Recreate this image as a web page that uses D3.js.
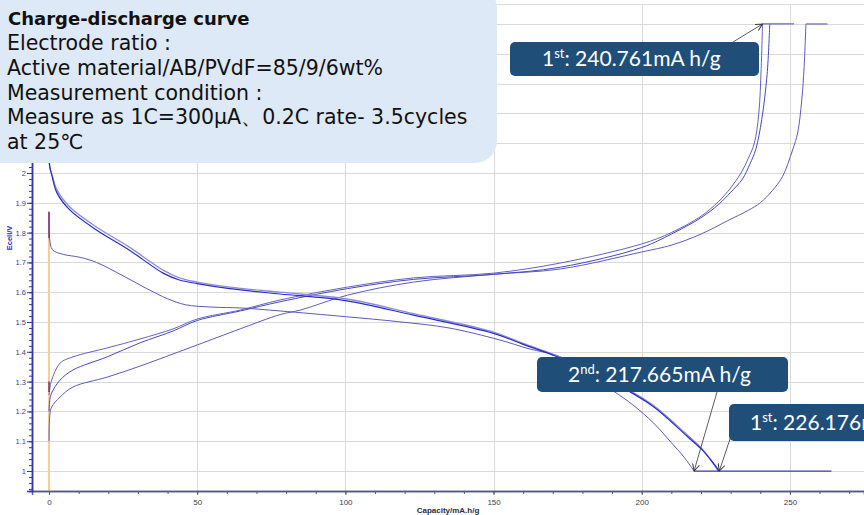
<!DOCTYPE html>
<html>
<head>
<meta charset="utf-8">
<script src="https://cdn.jsdelivr.net/npm/d3@7"></script>
<style>
  body { margin: 0; background: #fff; }
  svg { display: block; }
</style>
</head>
<body>
<svg id="chart" width="864" height="515"></svg>
<script>
// capacity (mAh/g) and cell voltage (V)
var dis1Cap = [0, 0.3, 1, 2.6, 7, 16, 27, 38.5, 44, 50, 61, 78, 100, 123, 150, 160, 170, 182, 193, 204, 215.5, 220, 223.3, 226.2]
var dis1V = [2.05, 2.02, 1.99, 1.935, 1.876, 1.809, 1.742, 1.664, 1.641, 1.629, 1.612, 1.594, 1.572, 1.523, 1.462, 1.425, 1.389, 1.34, 1.283, 1.216, 1.115, 1.075, 1.037, 1.0]

var dis2Cap = [0, 0.3, 1, 2.6, 7, 16, 27, 38.5, 44, 50, 61, 78, 100, 123, 150, 160, 170, 182, 193, 204, 215.5, 220, 223, 225.8]
var dis2V = [2.04, 2.015, 1.995, 1.945, 1.886, 1.819, 1.752, 1.674, 1.648, 1.634, 1.617, 1.6, 1.578, 1.528, 1.466, 1.428, 1.392, 1.343, 1.287, 1.22, 1.12, 1.078, 1.042, 1.0]

var dis3Cap = [0, 0.2, 1.2, 4.8, 10.5, 16, 25, 33, 40, 46, 55, 65, 78, 100, 118, 135, 152, 162, 172, 181, 190.5, 197, 204, 210, 214, 217.665]
var dis3V = [1.87, 1.78, 1.742, 1.727, 1.717, 1.70, 1.655, 1.612, 1.578, 1.558, 1.55, 1.547, 1.537, 1.518, 1.501, 1.48, 1.44, 1.41, 1.385, 1.33, 1.268, 1.222, 1.161, 1.095, 1.05, 1.0]

var chaACap = [0, 0.5, 0.9, 3.7, 8.1, 19.6, 30.7, 41.9, 50, 64.5, 78, 100.7, 123, 150, 172.6, 200, 210, 220, 226, 230, 233.5, 236, 238, 239.5, 240.3, 240.761]
var chaAV = [1.255, 1.29, 1.305, 1.362, 1.383, 1.413, 1.443, 1.477, 1.51, 1.54, 1.574, 1.617, 1.648, 1.664, 1.698, 1.762, 1.80, 1.855, 1.905, 1.95, 2.0, 2.05, 2.1, 2.2, 2.35, 2.5]

var chaBCap = [0, 0.3, 0.9, 3.7, 8.1, 19.6, 30.7, 41.9, 50, 64.5, 78, 100.7, 123, 150, 172.6, 200, 210, 220, 226, 230, 234, 236.5, 238.5, 240.5, 242.3, 243.2]
var chaBV = [1.20, 1.24, 1.262, 1.305, 1.339, 1.383, 1.43, 1.47, 1.505, 1.537, 1.568, 1.612, 1.643, 1.66, 1.684, 1.75, 1.795, 1.85, 1.895, 1.935, 1.98, 2.03, 2.08, 2.18, 2.33, 2.5]

var chaCCap = [0, 0.3, 0.9, 3.7, 8.1, 19.6, 30.7, 41.9, 50, 64.5, 78, 84.8, 100.7, 123, 150, 172.6, 200, 210, 220, 229, 236, 240, 244, 247.5, 250.9, 252.6, 254, 254.8, 255.4]
var chaCV = [1.10, 1.19, 1.215, 1.248, 1.282, 1.315, 1.352, 1.393, 1.423, 1.477, 1.525, 1.54, 1.59, 1.634, 1.66, 1.678, 1.735, 1.758, 1.795, 1.84, 1.875, 1.9, 1.94, 1.988, 2.077, 2.134, 2.245, 2.357, 2.5]

// rest steps (constant voltage)
var topRest1Cap = [240.761, 251.4]
var topRest2Cap = [255.4, 262.7]
var topRestV = 2.5
var bottomRestCap = [217.665, 264]
var bottomRestV = 1.0

// vertical traces at zero capacity
var zeroOrangeV = [0.935, 1.78]
var zeroMaroonV = [1.78, 1.87]
var zeroMaroonLowV = [1.265, 1.3]

var xTicks = [0, 50, 100, 150, 200, 250]
var yTicks = [1, 1.1, 1.2, 1.3, 1.4, 1.5, 1.6, 1.7, 1.8, 1.9, 2, 2.1, 2.2, 2.3, 2.4, 2.5]
var yLabelMax = 2

var infoLines = ["Electrode ratio :", "Active material/AB/PVdF=85/9/6wt%", "Measurement condition :", "Measure as 1C=300μA、0.2C rate- 3.5cycles", "at 25℃"]
var notes = [
  {num: "1", ord: "st", text: ": 240.761mA h/g", cap: 240.761, v: 2.5},
  {num: "2", ord: "nd", text: ": 217.665mA h/g", cap: 217.665, v: 1.0},
  {num: "1", ord: "st", text: ": 226.176mA h/g", cap: 226.176, v: 1.0}
]

var svg = d3.select('#chart')
var W = 864, H = 515

var x = d3.scaleLinear().domain([-5.74, 275]).range([32, 864])
var y = d3.scaleLinear().domain([0.933, 2.567]).range([491, 4])

/* grid */
var grid = svg.append('g').attr('stroke', '#d9d9d9').attr('stroke-width', 1)
grid.selectAll('.hg').data(yTicks).enter().append('line')
  .attr('x1', 32).attr('x2', W)
  .attr('y1', d => Math.round(y(d)) + 0.5).attr('y2', d => Math.round(y(d)) + 0.5)
grid.selectAll('.vg').data(xTicks.slice(1)).enter().append('line')
  .attr('x1', d => Math.round(x(d)) + 0.5).attr('x2', d => Math.round(x(d)) + 0.5)
  .attr('y1', 4).attr('y2', 491)
grid.append('line').attr('x1', 32).attr('x2', W).attr('y1', 4.5).attr('y2', 4.5)

/* zero capacity traces */
function vseg(vs, color, w) {
  svg.append('line')
    .attr('x1', x(0)).attr('x2', x(0))
    .attr('y1', y(vs[0])).attr('y2', y(vs[1]))
    .attr('stroke', color).attr('stroke-width', w)
}
vseg(zeroOrangeV, '#f3cf96', 2)

/* curves */
var line = d3.line()
  .curve(d3.curveCatmullRom.alpha(0.5))
  .x(d => x(d[0]))
  .y(d => y(d[1]))

var series = [
  {c: chaCCap, v: chaCV, color: '#5c5cbc', w: 1},
  {c: chaBCap, v: chaBV, color: '#4848c0', w: 1},
  {c: chaACap, v: chaAV, color: '#6262c0', w: 1},
  {c: dis3Cap, v: dis3V, color: '#5a5ab8', w: 1},
  {c: dis2Cap, v: dis2V, color: '#8c8cd8', w: 1.3},
  {c: dis1Cap, v: dis1V, color: '#2a2ac8', w: 1.2}
]
series.forEach(function(s) {
  svg.append('path')
    .datum(d3.zip(s.c, s.v))
    .attr('fill', 'none')
    .attr('stroke', s.color)
    .attr('stroke-width', s.w)
    .attr('d', line)
})

function hseg(cs, v, color) {
  svg.append('line')
    .attr('x1', x(cs[0])).attr('x2', x(cs[1]))
    .attr('y1', y(v)).attr('y2', y(v))
    .attr('stroke', color).attr('stroke-width', 1.2)
}
hseg(topRest1Cap, topRestV, '#6666c8')
hseg(topRest2Cap, topRestV, '#6666c8')
hseg(bottomRestCap, bottomRestV, '#3a3ac4')

vseg(zeroMaroonV, '#7a2a5a', 1.4)
vseg(zeroMaroonLowV, '#7a2a5a', 1.4)

/* x axis */
var xAxis = svg.append('g')
  .attr('transform', 'translate(0, 491)')
  .call(d3.axisBottom(x).tickValues(d3.range(0, 271, 10)).tickSize(3).tickFormat(''))
xAxis.append('g')
  .call(d3.axisBottom(x).tickValues(xTicks).tickSize(4).tickFormat(d3.format('d')))
xAxis.selectAll('.domain').attr('stroke', '#55597a').attr('stroke-width', 1.5)
xAxis.selectAll('.tick line').attr('stroke', '#55597a')
xAxis.selectAll('text')
  .attr('fill', '#3c3c50')
  .style('font-family', '"Liberation Sans Narrow", "Liberation Sans", sans-serif')
  .style('font-size', '8px')
  .attr('dy', '0.9em')
xAxis.select('.domain').attr('d', 'M32,0.5H864')

svg.append('text')
  .attr('x', (32 + W) / 2).attr('y', 513)
  .attr('text-anchor', 'middle')
  .attr('fill', '#2c2c48')
  .style('font-family', '"Liberation Sans Narrow", "Liberation Sans", sans-serif')
  .style('font-size', '8px')
  .style('font-weight', 'bold')
  .text('Capacity/mA.h/g')

/* y axis */
var yAxis = svg.append('g')
  .attr('transform', 'translate(32, 0)')
  .call(d3.axisLeft(y).tickValues(d3.range(0.94, 2.561, 0.02)).tickSize(3).tickFormat(''))
yAxis.append('g')
  .call(d3.axisLeft(y).tickValues(yTicks).tickSize(5)
    .tickFormat(d => d <= yLabelMax + 1e-9 ? String(+d.toFixed(1)) : ''))
yAxis.selectAll('.domain').attr('stroke', '#3434b0').attr('stroke-width', 1.5)
yAxis.selectAll('.tick line').attr('stroke', '#3434b0')
yAxis.selectAll('text')
  .attr('fill', '#3a4488')
  .style('font-family', '"Liberation Sans Narrow", "Liberation Sans", sans-serif')
  .style('font-size', '7.5px')
  .attr('x', -6)

svg.append('text')
  .attr('transform', 'translate(12, 238) rotate(-90)')
  .attr('text-anchor', 'middle')
  .attr('fill', '#2b2bb0')
  .style('font-family', '"Liberation Sans Narrow", "Liberation Sans", sans-serif')
  .style('font-size', '7.5px')
  .style('font-weight', 'bold')
  .text('Ecell/V')

/* info box */
svg.append('rect')
  .attr('x', -30).attr('y', -14)
  .attr('width', 527).attr('height', 177)
  .attr('rx', 22)
  .attr('fill', '#dde9f6')

var info = svg.append('g')
  .style('font-family', '"DejaVu Sans", Verdana, sans-serif')
  .attr('fill', '#111')
info.append('text')
  .attr('x', 8).attr('y', 25)
  .style('font-size', '18px').style('font-weight', 'bold')
  .text('Charge-discharge curve')
info.selectAll('.ln').data(infoLines).enter().append('text')
  .attr('x', 7).attr('y', (d, i) => 50 + i * 24.8)
  .style('font-size', '20.5px')
  .text(d => d)

/* annotations */
var boxes = [
  {x: 510, y: 42, w: 249, h: 34, pad: 32, from: [733, 42]},
  {x: 537, y: 357, w: 251, h: 35, pad: 31, from: [717, 392]},
  {x: 729, y: 404, w: 260, h: 37, pad: 21, from: [731, 436]}
]

svg.append('defs').append('marker')
  .attr('id', 'arr')
  .attr('viewBox', '0 0 8 8')
  .attr('refX', 7).attr('refY', 4)
  .attr('markerWidth', 8).attr('markerHeight', 8)
  .attr('markerUnits', 'userSpaceOnUse')
  .attr('orient', 'auto')
  .append('path')
  .attr('d', 'M0,0.5 L7,4 L0,7.5')
  .attr('fill', 'none').attr('stroke', '#333').attr('stroke-width', 1)

notes.forEach(function(n, i) {
  var b = boxes[i]
  svg.append('line')
    .attr('x1', b.from[0]).attr('y1', b.from[1])
    .attr('x2', x(n.cap)).attr('y2', y(n.v))
    .attr('stroke', '#333').attr('stroke-width', 0.8)
    .attr('marker-end', 'url(#arr)')
  svg.append('rect')
    .attr('x', b.x).attr('y', b.y)
    .attr('width', b.w).attr('height', b.h)
    .attr('rx', 5)
    .attr('fill', '#1f4e79')
  var t = svg.append('text')
    .attr('x', b.x + b.pad).attr('y', b.y + b.h / 2 + 7)
    .attr('fill', '#fff')
    .style('font-family', 'Lato, sans-serif')
    .style('font-size', '21px')
  t.append('tspan').text(n.num)
  t.append('tspan').attr('dy', -8).style('font-size', '13px').text(n.ord)
  t.append('tspan').attr('dy', 8).text(n.text)
})
</script>
</body>
</html>
